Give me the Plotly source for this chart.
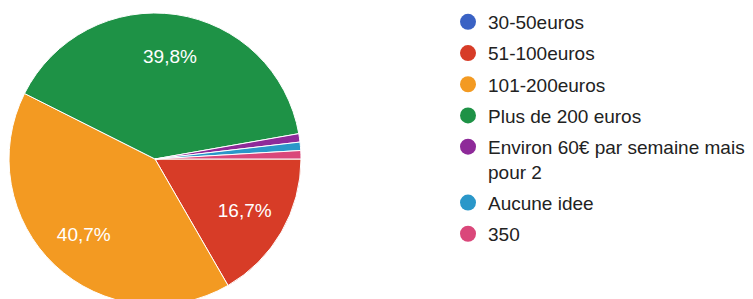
import plotly.graph_objects as go

labels = ["30-50euros", "51-100euros", "101-200euros", "Plus de 200 euros",
          "Environ 60€ par semaine mais<br>pour 2", "Aucune idee", "350"]
values = [0, 18, 44, 43, 1, 1, 1]
colors = ["#3a62c4", "#d73c27", "#f39a22", "#1e9246", "#8e2a99", "#2a97c9", "#da477a"]

total = sum(values)
texts = [(f"{v / total * 100:.1f}%".replace(".", ",") if v / total > 0.05 else "") for v in values]

W, H = 753, 310
cx, cy, R = 155, 159, 146
dom_x = [(cx - R) / W, (cx + R) / W]
dom_y = [1 - (cy + R) / H, 1 - (cy - R) / H]

fig = go.Figure()
fig.add_trace(go.Pie(
    labels=labels, values=values, textinfo="none",
    sort=False, direction="clockwise", rotation=90,
    marker=dict(colors=colors, line=dict(color="white", width=1)),
    showlegend=False, hoverinfo="label+percent",
    domain=dict(x=dom_x, y=dom_y),
))
# transparent ring overlay only to place the percentage labels at ~0.7 radius
fig.add_trace(go.Pie(
    labels=labels, values=values, text=texts, textinfo="text", hole=0.42,
    sort=False, direction="clockwise", rotation=90,
    marker=dict(colors=["rgba(0,0,0,0)"] * len(values), line=dict(width=0)),
    textfont=dict(color="white", size=19, family="Liberation Sans, Arial"),
    insidetextorientation="horizontal", textposition="inside",
    showlegend=False, hoverinfo="skip",
    domain=dict(x=dom_x, y=dom_y),
))

for i, (lab, col) in enumerate(zip(labels, colors)):
    fig.add_trace(go.Scatter(
        x=[None], y=[None], mode="markers", name=lab, legendgroup=f"g{i}",
        marker=dict(color=col, size=16, symbol="circle"), showlegend=True,
    ))

fig.update_layout(
    width=W, height=H,
    margin=dict(l=0, r=0, t=0, b=0),
    paper_bgcolor="white", plot_bgcolor="white",
    xaxis=dict(visible=False), yaxis=dict(visible=False),
    legend=dict(x=448 / W, y=1 - 3 / H, xanchor="left", yanchor="top",
                font=dict(size=19, family="Liberation Sans, Arial", color="#222222"),
                valign="top", itemwidth=30, bgcolor="rgba(0,0,0,0)",
                traceorder="grouped", tracegroupgap=3.5),
)
fig.write_html("out.html", config={"displayModeBar": False},
               post_script="document.body.style.margin='0';")
